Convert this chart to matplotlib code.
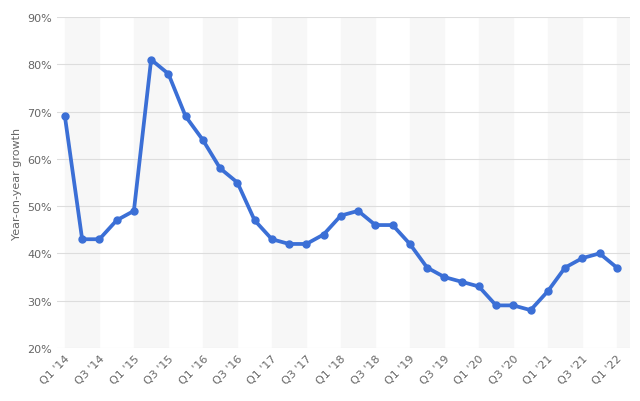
import matplotlib
matplotlib.use("Agg")
import matplotlib.pyplot as plt
import numpy as np

values = [69,43,43,47,49,81,78,69,64,58,55,47,43,42,42,44,48,49,46,46,42,37,35,34,33,29,29,28,32,37,39,40,37]
quarters = []
for y in range(14, 23):
    for q in range(1, 5):
        quarters.append(f"Q{q} '{y}")
quarters = quarters[:len(values)]

fig = plt.figure(figsize=(6.4, 4.02), dpi=100)
ax = fig.add_axes([0.089, 0.132, 0.895, 0.823])
x = np.arange(len(values))
for start in range(0, len(values), 4):
    ax.axvspan(start - 0.0, start + 2.0, color='#f7f7f7', zorder=0)
ax.plot(x, values, color='#3b6fd6', lw=2.7, marker='o', ms=5, zorder=3)
ax.set_ylim(20, 90)
ax.set_xlim(-0.46, len(values) - 0.25)
ax.set_yticks(range(20, 91, 10))
ax.set_yticklabels([f"{v}%" for v in range(20, 91, 10)], fontsize=8, color='#666666')
ax.set_xticks(x[::2])
ax.set_xticklabels(quarters[::2], rotation=45, ha='right', rotation_mode='anchor', fontsize=8, color='#666666')
ax.grid(axis='y', color='#dddddd', lw=0.8, zorder=1)
ax.set_axisbelow(True)
for s in ax.spines.values():
    s.set_visible(False)
ax.tick_params(length=0)
ax.set_ylabel("Year-on-year growth", fontsize=8, color='#666666')
fig.savefig("out.png")
